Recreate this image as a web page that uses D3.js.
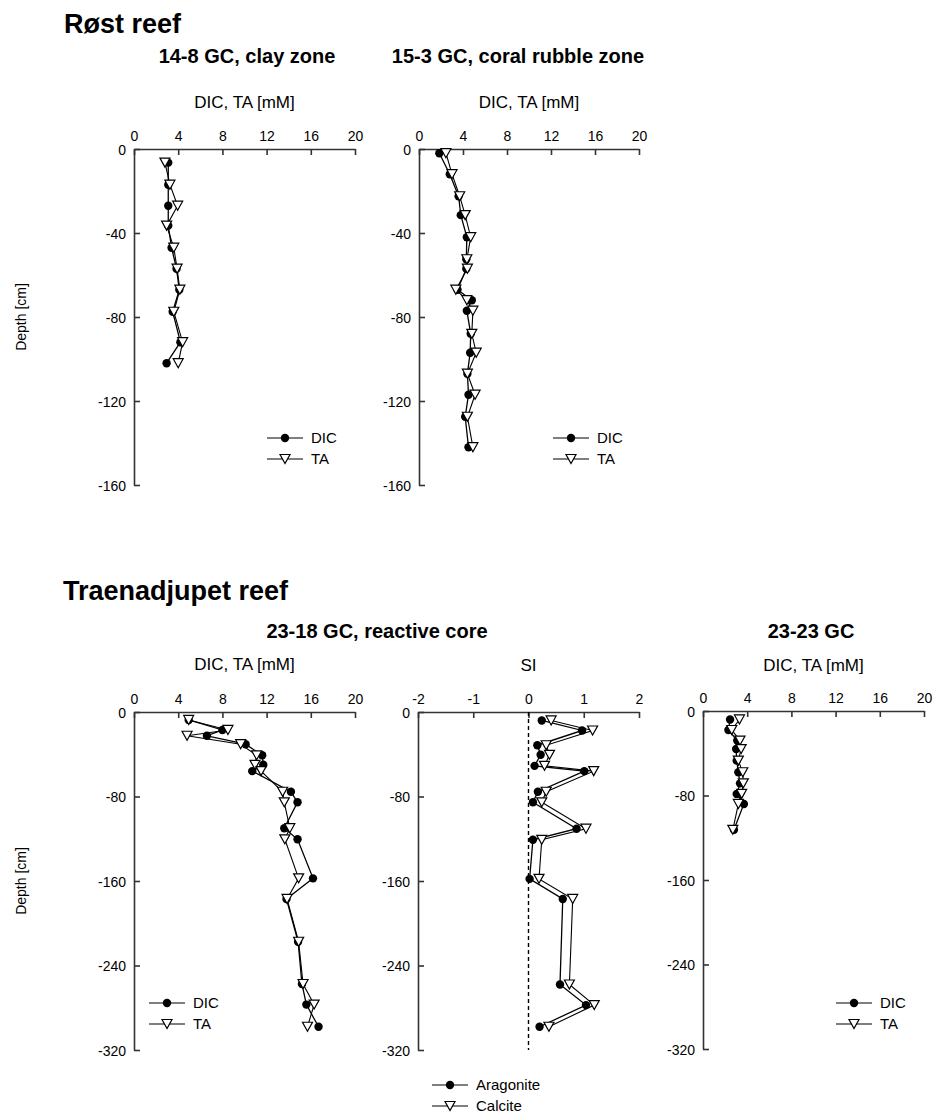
<!DOCTYPE html>
<html><head><meta charset="utf-8">
<script src="https://cdn.jsdelivr.net/npm/d3@7"></script>
<style>
body{margin:0;background:#fff;}
svg text{font-family:"Liberation Sans",Arial,sans-serif;fill:#000;}
</style></head>
<body>
<svg id="chart" width="933" height="1113"></svg>
<script>
// ---- data ----
const dicTicks = [0, 4, 8, 12, 16, 20];
const siTicks = [-2, -1, 0, 1, 2];
const depthTicksRost = [0, -40, -80, -120, -160];
const depthTicksTraena = [0, -80, -160, -240, -320];

// Røst reef, 14-8 GC clay zone
const c148Depth = [-6.5, -17, -27, -36.5, -47, -57, -67, -77.5, -92, -102];
const c148DIC   = [3.1, 3.1, 3.1, 3.1, 3.4, 3.85, 4.1, 3.5, 4.2, 2.95];
const c148TA    = [2.8, 3.25, 3.95, 2.95, 3.6, 3.9, 4.15, 3.6, 4.4, 4.0];

// Røst reef, 15-3 GC coral rubble zone
const c153Depth = [-2, -12, -22.5, -31.5, -42, -52.5, -57, -67, -72, -77, -88, -97, -107, -117, -127.5, -142];
const c153DIC   = [1.85, 2.8, 3.6, 3.8, 4.35, 4.3, 4.3, 3.5, 4.8, 4.35, 4.7, 4.65, 4.4, 4.5, 4.2, 4.5];
const c153TA    = [2.45, 3.0, 3.7, 4.2, 4.7, 4.35, 4.4, 3.35, 4.35, 4.9, 4.8, 5.2, 4.4, 5.1, 4.4, 4.9];

// Traenadjupet reef, 23-18 GC reactive core
const c2318Depth = [-7.5, -17, -22.5, -30.5, -41, -50, -56, -75.5, -85.5, -110, -120.5, -157.5, -177, -217.5, -257.5, -277, -298];
const c2318DIC   = [4.95, 8.0, 6.6, 10.1, 11.6, 11.7, 10.7, 14.2, 14.8, 13.6, 14.8, 16.2, 13.8, 14.85, 15.2, 15.6, 16.7];
const c2318TA    = [4.95, 8.5, 4.8, 9.65, 11.1, 10.95, 11.5, 13.45, 13.6, 14.1, 13.65, 14.9, 13.85, 14.9, 15.3, 16.3, 15.7];

// 23-18 GC saturation index
const siDepth     = [-8, -17.5, -31.5, -40.5, -51, -56, -75.5, -85.5, -110.5, -121, -158, -177, -258, -277.5, -298];
const siAragonite = [0.24, 0.97, 0.16, 0.22, 0.11, 1.01, 0.17, 0.08, 0.87, 0.08, 0.02, 0.62, 0.57, 1.04, 0.2];
const siCalcite   = [0.41, 1.16, 0.32, 0.38, 0.29, 1.18, 0.32, 0.24, 1.04, 0.24, 0.19, 0.8, 0.74, 1.19, 0.37];

// Traenadjupet reef, 23-23 GC
const c2323Depth = [-8, -18, -28, -36, -47, -58, -68.5, -78.5, -88, -112.5];
const c2323DIC   = [2.45, 2.3, 3.1, 3.0, 3.05, 3.2, 3.35, 3.05, 3.7, 2.8];
const c2323TA    = [3.3, 2.6, 3.35, 3.45, 3.2, 3.6, 3.65, 3.5, 3.2, 2.7];

// ---- drawing ----
const svg = d3.select("#chart");
const axisColor = "#333";
const plainFmt = d => String(d);

function tri(g, x, y, s) {
  const h = s * 0.9;
  g.append("path")
    .attr("d", `M${x - s/2},${y - h/2} L${x + s/2},${y - h/2} L${x},${y + h/2} Z`)
    .attr("fill", "#fff").attr("stroke", "#000").attr("stroke-width", 1.2);
}
function dot(g, x, y) {
  g.append("circle").attr("cx", x).attr("cy", y).attr("r", 4.2).attr("fill", "#000");
}

function panel(cfg) {
  const g = svg.append("g");
  const x = d3.scaleLinear().domain(cfg.xDomain).range(cfg.xRange);
  const y = d3.scaleLinear().domain([0, cfg.yMin]).range(cfg.yRange);

  const xa = g.append("g").attr("transform", `translate(0,${cfg.yRange[0]})`)
    .call(d3.axisTop(x).tickValues(cfg.xTicks).tickFormat(plainFmt).tickSize(-6).tickSizeOuter(0).tickPadding(8));
  const ya = g.append("g").attr("transform", `translate(${cfg.xRange[0]},0)`)
    .call(d3.axisLeft(y).tickValues(cfg.yTicks).tickFormat(plainFmt).tickSize(-6).tickSizeOuter(0).tickPadding(8));
  [xa, ya].forEach(a => {
    a.select(".domain").attr("stroke", axisColor).attr("stroke-width", 1.6);
    a.selectAll(".tick line").attr("stroke", axisColor).attr("stroke-width", 1.6);
    a.selectAll(".tick text").attr("font-size", 14).attr("fill", "#000")
      .attr("font-family", '"Liberation Sans",Arial,sans-serif');
  });
  xa.selectAll(".tick text").attr("dy", "0");
  ya.selectAll(".tick text").attr("dy", "0.36em");

  g.append("text").attr("x", (cfg.xRange[0] + cfg.xRange[1]) / 2).attr("y", cfg.titleY)
    .attr("text-anchor", "middle").attr("font-size", 17).text(cfg.xLabel);

  if (cfg.zeroLine) {
    g.append("line").attr("x1", x(0)).attr("x2", x(0))
      .attr("y1", y(0)).attr("y2", y(cfg.yMin))
      .attr("stroke", "#000").attr("stroke-width", 1.4).attr("stroke-dasharray", "4,3");
  }

  const line = d3.line().x(d => x(d[0])).y(d => y(d[1]));
  const s1 = cfg.depth.map((d, i) => [cfg.s1[i], d]);
  const s2 = cfg.depth.map((d, i) => [cfg.s2[i], d]);
  g.append("path").attr("d", line(s1)).attr("fill", "none").attr("stroke", "#000").attr("stroke-width", 1.3);
  g.append("path").attr("d", line(s2)).attr("fill", "none").attr("stroke", "#000").attr("stroke-width", 1.1);
  s1.forEach(p => dot(g, x(p[0]), y(p[1])));
  s2.forEach(p => tri(g, x(p[0]), y(p[1]), 10));

  const L = cfg.legend;
  [[cfg.names[0], 0], [cfg.names[1], 1]].forEach(([name, k]) => {
    const ly = L.y + k * 21;
    g.append("line").attr("x1", L.x).attr("x2", L.x + 36).attr("y1", ly).attr("y2", ly)
      .attr("stroke", "#000").attr("stroke-width", 1.2);
    if (k === 0) dot(g, L.x + 18, ly); else tri(g, L.x + 18, ly, 10);
    g.append("text").attr("x", L.x + 44).attr("y", ly).attr("dy", "0.36em")
      .attr("font-size", 15).text(name);
  });
}

panel({xDomain:[0,20], xRange:[134,355], yMin:-160, yRange:[149,485], xTicks:dicTicks, yTicks:depthTicksRost,
  xLabel:"DIC, TA [mM]", titleY:108, depth:c148Depth, s1:c148DIC, s2:c148TA, names:["DIC","TA"],
  legend:{x:267, y:438}});
panel({xDomain:[0,20], xRange:[419,639], yMin:-160, yRange:[149,485], xTicks:dicTicks, yTicks:depthTicksRost,
  xLabel:"DIC, TA [mM]", titleY:108, depth:c153Depth, s1:c153DIC, s2:c153TA, names:["DIC","TA"],
  legend:{x:553, y:438}});
panel({xDomain:[0,20], xRange:[134,355], yMin:-320, yRange:[712,1050], xTicks:dicTicks, yTicks:depthTicksTraena,
  xLabel:"DIC, TA [mM]", titleY:670, depth:c2318Depth, s1:c2318DIC, s2:c2318TA, names:["DIC","TA"],
  legend:{x:149, y:1003}});
panel({xDomain:[-2,2], xRange:[418,639], yMin:-320, yRange:[712,1050], xTicks:siTicks, yTicks:depthTicksTraena,
  xLabel:"SI", titleY:671, depth:siDepth, s1:siAragonite, s2:siCalcite, names:["Aragonite","Calcite"],
  legend:{x:432, y:1085}, zeroLine:true});
panel({xDomain:[0,20], xRange:[703,924], yMin:-320, yRange:[711,1049], xTicks:dicTicks, yTicks:depthTicksTraena,
  xLabel:"DIC, TA [mM]", titleY:671, depth:c2323Depth, s1:c2323DIC, s2:c2323TA, names:["DIC","TA"],
  legend:{x:836, y:1003}});

svg.append("text").attr("x", 64).attr("y", 33).attr("font-size", 27).attr("font-weight", "bold").text("Røst reef");
svg.append("text").attr("x", 247).attr("y", 63).attr("text-anchor", "middle").attr("font-size", 20).attr("font-weight", "bold").text("14-8 GC, clay zone");
svg.append("text").attr("x", 518).attr("y", 63).attr("text-anchor", "middle").attr("font-size", 20).attr("font-weight", "bold").text("15-3 GC, coral rubble zone");
svg.append("text").attr("x", 63).attr("y", 600).attr("font-size", 27).attr("font-weight", "bold").text("Traenadjupet reef");
svg.append("text").attr("x", 377).attr("y", 638).attr("text-anchor", "middle").attr("font-size", 20).attr("font-weight", "bold").text("23-18 GC, reactive core");
svg.append("text").attr("x", 811).attr("y", 638).attr("text-anchor", "middle").attr("font-size", 20).attr("font-weight", "bold").text("23-23 GC");

[317, 881].forEach(cy => {
  svg.append("text").attr("transform", `translate(26,${cy}) rotate(-90)`)
    .attr("text-anchor", "middle").attr("font-size", 14).text("Depth [cm]");
});
</script>
</body></html>
